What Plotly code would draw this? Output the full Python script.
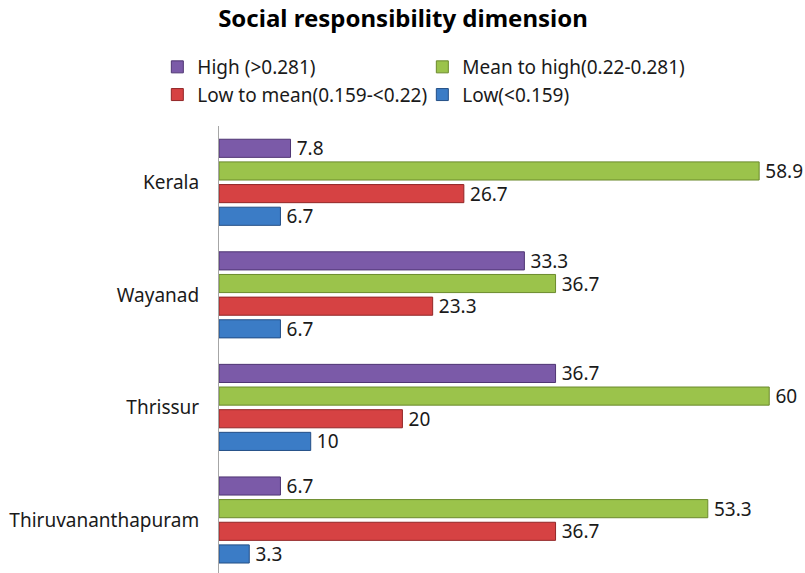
import plotly.graph_objects as go

# Districts (top to bottom) and share of respondents (%) per level
districts = ["Kerala", "Wayanad", "Thrissur", "Thiruvananthapuram"]
series_names = [
    "High (>0.281)",
    "Mean to high(0.22-0.281)",
    "Low to mean(0.159-<0.22)",
    "Low(<0.159)",
]
high = [7.8, 33.3, 36.7, 6.7]
mean_to_high = [58.9, 36.7, 60, 53.3]
low_to_mean = [26.7, 23.3, 20, 36.7]
low = [6.7, 6.7, 10, 3.3]

series_values = [high, mean_to_high, low_to_mean, low]
fills = ["#7b5aa8", "#9bc34b", "#d64243", "#3b7cc6"]
edges = ["#4f3573", "#6b8a2c", "#922627", "#244f86"]

FONT = "Noto Sans"

fig = go.Figure()
for name, vals, fc, ec in zip(series_names, series_values, fills, edges):
    fig.add_trace(go.Bar(
        y=districts,
        x=vals,
        name=name,
        orientation="h",
        marker=dict(color=fc, line=dict(color=ec, width=1)),
        text=[f"{v:g}" for v in vals],
        # thin space keeps the value label a little clear of the bar end
        texttemplate="\u2009%{text}",
        textposition="outside",
        constraintext="none",
        textfont=dict(family=FONT, size=19, color="#1a1a1a"),
        cliponaxis=False,
    ))

fig.update_layout(
    width=805,
    height=573,
    margin=dict(l=219, r=0, t=126, b=0),
    paper_bgcolor="white",
    plot_bgcolor="white",
    barmode="group",
    bargap=0.195,
    bargroupgap=0.2,
    font=dict(family=FONT, size=19, color="#1a1a1a"),
    title=dict(
        text="<b>Social responsibility dimension</b>",
        x=403 / 805,
        xanchor="center",
        y=1 - 19 / 573,
        yanchor="middle",
        font=dict(family=FONT, size=24, color="#000000"),
    ),
    legend=dict(
        orientation="h",
        x=0.347,
        xanchor="center",
        y=1 + (126 - 48) / 447,
        yanchor="top",
        entrywidth=220,
        entrywidthmode="pixels",
        font=dict(family=FONT, size=19, color="#1a1a1a"),
        traceorder="normal",
        tracegroupgap=0,
    ),
    showlegend=True,
)

fig.update_xaxes(
    range=[0, 63.9],
    visible=False,
    showgrid=False,
    zeroline=False,
)
fig.update_yaxes(
    categoryorder="array",
    categoryarray=districts,
    range=[3.471, -0.5],
    showline=True,
    linecolor="#a6a6a6",
    linewidth=1,
    showgrid=False,
    ticks="",
    ticklabelstandoff=15,
    tickfont=dict(family=FONT, size=19, color="#1a1a1a"),
)

fig.write_html("out.html")
